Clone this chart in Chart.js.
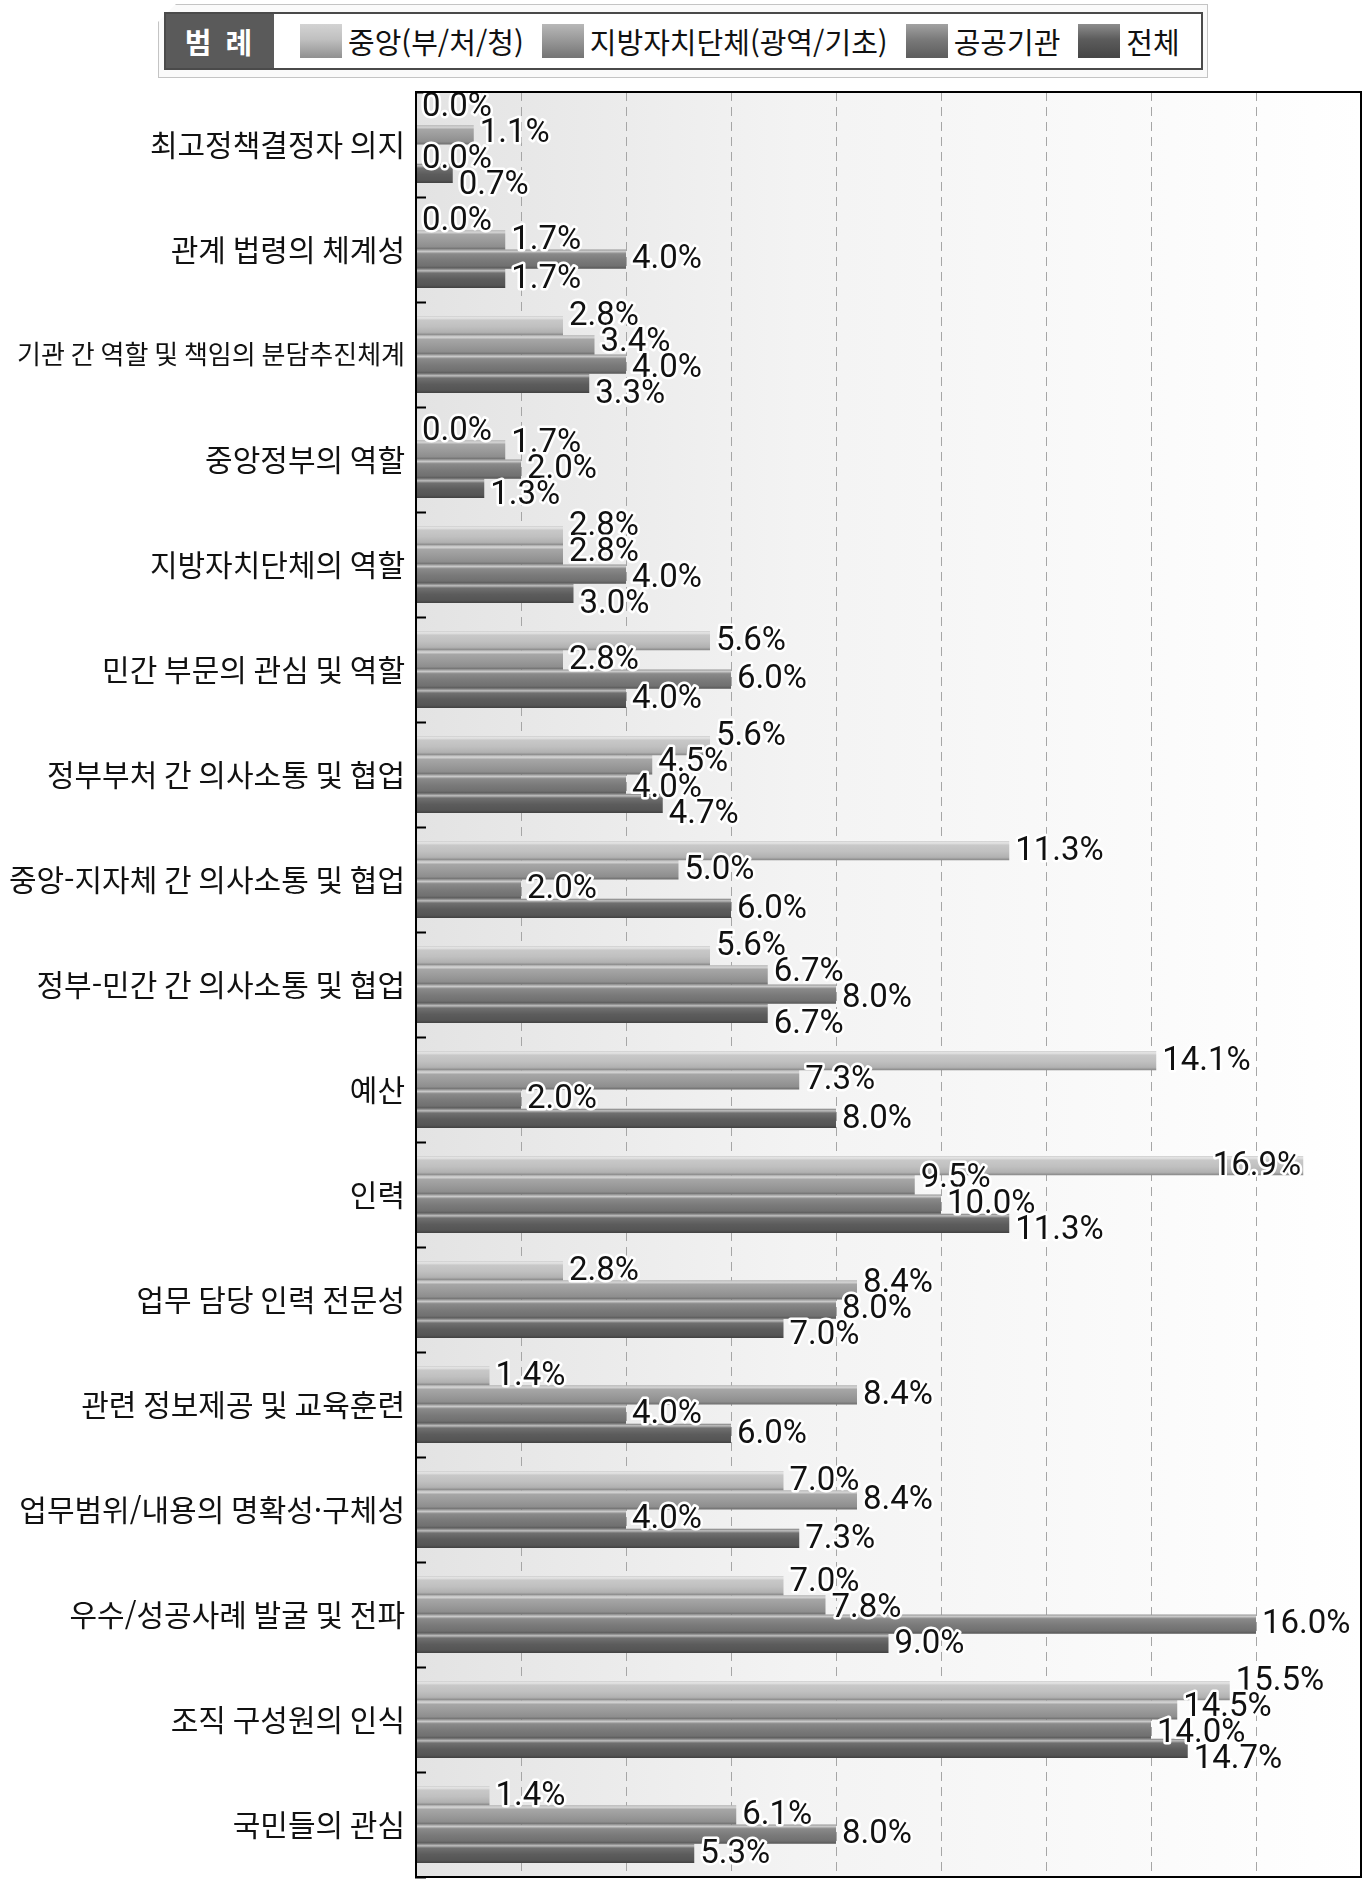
<!DOCTYPE html>
<html lang="ko">
<head>
<meta charset="utf-8">
<script src="https://cdn.jsdelivr.net/npm/chart.js@4.4.1/dist/chart.umd.min.js"></script>
<style>
  body { margin: 0; background: #fff; }
  #wrap { position: relative; width: 1370px; height: 1890px; }
  #frame {
    position: absolute; left: 158px; top: 4px; width: 1050px; height: 74px;
    border: 1px solid #c4c4c4; box-sizing: border-box; background: #fafafa;
    clip-path: polygon(18px 0, 100% 0, 100% 100%, 0 100%, 0 18px);
  }
  #legend {
    position: absolute; left: 164px; top: 12px; width: 1039px; height: 58px;
    border: 2px solid #4a4a4a; box-sizing: border-box; background: #fff;
    display: flex; align-items: center;
    font-family: "Noto Sans CJK KR", sans-serif; font-size: 29px; color: #111;
  }
  #legend .tab {
    width: 108px; height: 100%; background: #5a5a5a; color: #fff;
    display: flex; align-items: center; justify-content: center;
    font-weight: bold; font-size: 29px; letter-spacing: 3px; margin-right: 26px;
  }
  #legend .item { display: flex; align-items: center; margin-right: 18px; }
  #legend .sw { width: 42px; height: 34px; margin-right: 6px; }
  canvas { position: absolute; left: 0; top: 0; }
</style>
</head>
<body>
<div id="wrap">
  <canvas id="chart" width="1370" height="1890"></canvas>
  <div id="frame"></div>
  <div id="legend"><div class="tab">범 례</div></div>
</div>
<script>
// 항목
let categories = [
  '최고정책결정자 의지', '관계 법령의 체계성', '기관 간 역할 및 책임의 분담추진체계',
  '중앙정부의 역할', '지방자치단체의 역할', '민간 부문의 관심 및 역할',
  '정부부처 간 의사소통 및 협업', '중앙-지자체 간 의사소통 및 협업', '정부-민간 간 의사소통 및 협업',
  '예산', '인력', '업무 담당 인력 전문성', '관련 정보제공 및 교육훈련',
  '업무범위/내용의 명확성·구체성', '우수/성공사례 발굴 및 전파', '조직 구성원의 인식', '국민들의 관심'
];
let seriesNames = ['중앙(부/처/청)', '지방자치단체(광역/기초)', '공공기관', '전체'];

// 응답 비율 (%)
let central = [0.0, 0.0, 2.8, 0.0, 2.8, 5.6, 5.6, 11.3, 5.6, 14.1, 16.9, 2.8, 1.4, 7.0, 7.0, 15.5, 1.4];
let local = [1.1, 1.7, 3.4, 1.7, 2.8, 2.8, 4.5, 5.0, 6.7, 7.3, 9.5, 8.4, 8.4, 8.4, 7.8, 14.5, 6.1];
let publicOrg = [0.0, 4.0, 4.0, 2.0, 4.0, 6.0, 4.0, 2.0, 8.0, 2.0, 10.0, 8.0, 4.0, 4.0, 16.0, 14.0, 8.0];
let total = [0.7, 1.7, 3.3, 1.3, 3.0, 4.0, 4.7, 6.0, 6.7, 8.0, 11.3, 7.0, 6.0, 7.3, 9.0, 14.7, 5.3];

let xMax = 18;
let xStep = 2;

let baseColors = ['#c0c0c0', '#9a9a9a', '#7a7a7a', '#5c5c5c'];
let catPct = 0.735;

// 색 섞기 (amt > 0 이면 흰색, < 0 이면 검정 쪽으로)
function shade(hex, amt) {
  let n = parseInt(hex.slice(1), 16);
  let r = n >> 16, g = (n >> 8) & 255, b = n & 255;
  let t = amt > 0 ? 255 : 0;
  let a = Math.abs(amt);
  r = Math.round(r + (t - r) * a);
  g = Math.round(g + (t - g) * a);
  b = Math.round(b + (t - b) * a);
  return 'rgb(' + r + ',' + g + ',' + b + ')';
}

// 막대마다 위아래 그라데이션
function barFill(context) {
  let base = baseColors[context.datasetIndex];
  let chart = context.chart;
  let ys = chart.scales.y;
  if (!ys || context.type !== 'data' || !isFinite(ys.getPixelForValue(0))) return base;
  let step = ys.getPixelForValue(1) - ys.getPixelForValue(0);
  let slot = step * catPct / 4;
  let top = ys.getPixelForValue(context.dataIndex) - step * catPct / 2 + context.datasetIndex * slot;
  let g = chart.ctx.createLinearGradient(0, top, 0, top + slot);
  g.addColorStop(0, shade(base, 0.2));
  g.addColorStop(0.1, shade(base, 0.6));
  g.addColorStop(0.22, shade(base, 0.12));
  g.addColorStop(0.55, base);
  g.addColorStop(0.85, shade(base, -0.08));
  g.addColorStop(1, shade(base, -0.3));
  return g;
}

// 그래프 영역 배경 + 테두리
let plotFrame = {
  id: 'plotFrame',
  beforeDraw(chart) {
    let a = chart.chartArea;
    let c = chart.ctx;
    let g = c.createLinearGradient(a.left, 0, a.right, 0);
    g.addColorStop(0, '#e3e3e3');
    g.addColorStop(0.4, '#f3f3f3');
    g.addColorStop(1, '#ffffff');
    c.save();
    c.fillStyle = g;
    c.fillRect(a.left, a.top, a.right - a.left, a.bottom - a.top);
    c.restore();
  },
  afterDraw(chart) {
    let a = chart.chartArea;
    let c = chart.ctx;
    c.save();
    c.strokeStyle = '#000';
    c.lineWidth = 2;
    c.strokeRect(a.left, a.top, a.right - a.left, a.bottom - a.top);
    c.restore();
  }
};

// 막대 끝 값 표시 (겹치는 값은 위아래로 벌려 줌)
let valueLabels = {
  id: 'valueLabels',
  afterDatasetsDraw(chart) {
    let c = chart.ctx;
    let gap = 26;
    let area = chart.chartArea;
    c.save();
    c.font = '33px Roboto';
    c.textBaseline = 'middle';
    c.lineJoin = 'round';
    for (let j = 0; j < categories.length; j++) {
      let items = [];
      chart.data.datasets.forEach(function(ds, i) {
        let bar = chart.getDatasetMeta(i).data[j];
        let text = ds.data[j].toFixed(1) + '%';
        let w = c.measureText(text).width;
        let x = bar.x + 6;
        if (x + w > area.right - 2) x = bar.x - w - 2;
        items.push({ text: text, x: x, w: w, y: bar.y + 1 });
      });
      for (let pass = 0; pass < 20; pass++) {
        for (let a = 0; a < items.length; a++) {
          for (let b = a + 1; b < items.length; b++) {
            let p = items[a], q = items[b];
            let overlapX = p.x < q.x + q.w && q.x < p.x + p.w;
            let d = q.y - p.y;
            if (overlapX && d < gap) {
              let push = (gap - d) / 2;
              p.y -= push;
              q.y += push;
            }
          }
        }
      }
      // 그래프 위쪽 밖으로 나가지 않게
      let minY = Math.min.apply(null, items.map(function(it) { return it.y; }));
      if (minY < area.top + 16) {
        let shift = area.top + 16 - minY;
        items.forEach(function(it) { it.y += shift; });
      }
      items.forEach(function(it) {
        c.lineWidth = 5;
        c.strokeStyle = '#fff';
        c.strokeText(it.text, it.x, it.y);
        c.fillStyle = '#111';
        c.fillText(it.text, it.x, it.y);
      });
    }
    c.restore();
  }
};

let ctx = document.getElementById('chart').getContext('2d');
let chart = new Chart(ctx, {
  type: 'bar',
  data: {
    labels: categories,
    datasets: [central, local, publicOrg, total].map(function(d, i) {
      return {
        label: seriesNames[i],
        data: d,
        backgroundColor: barFill,
        borderWidth: 0,
        categoryPercentage: catPct,
        barPercentage: 1.0
      };
    })
  },
  options: {
    indexAxis: 'y',
    responsive: false,
    animation: false,
    layout: { padding: { top: 92, right: 9, bottom: 13, left: 0 } },
    plugins: {
      legend: { display: false },
      tooltip: { enabled: false }
    },
    scales: {
      x: {
        min: 0,
        max: xMax,
        ticks: { stepSize: xStep, display: false },
        grid: {
          drawTicks: false,
          color: function(c) {
            return (c.tick && (c.tick.value === 0 || c.tick.value === xMax)) ? 'rgba(0,0,0,0)' : '#a6a6a6';
          },
          lineWidth: 1
        },
        border: { display: false, dash: [9, 6] },
        afterFit: function(s) { s.height = 0; }
      },
      y: {
        ticks: {
          color: '#111',
          padding: 21,
          font: function(c) {
            let lbl = c.tick ? String(c.tick.label) : '';
            return { family: '"Noto Sans CJK KR", sans-serif', size: lbl.length > 18 ? 26 : 30 };
          }
        },
        grid: {
          drawOnChartArea: false,
          drawTicks: true,
          tickLength: -10,
          tickColor: '#000',
          tickWidth: 2
        },
        border: { display: true, color: '#000', width: 2 },
        afterFit: function(s) {
          s.width = 416;
          s.paddingTop = 0;
          s.paddingBottom = 0;
        }
      }
    }
  },
  plugins: [plotFrame, valueLabels]
});

// 범례 (HTML)
let legendBox = document.getElementById('legend');
seriesNames.forEach(function(name, i) {
  let base = baseColors[i];
  let item = document.createElement('div');
  item.className = 'item';
  let sw = document.createElement('div');
  sw.className = 'sw';
  sw.style.background = 'linear-gradient(to bottom, ' + shade(base, 0.3) + ', ' + base + ' 45%, ' + shade(base, -0.25) + ')';
  let txt = document.createElement('span');
  txt.textContent = name;
  item.appendChild(sw);
  item.appendChild(txt);
  legendBox.appendChild(item);
});
</script>
</body>
</html>
